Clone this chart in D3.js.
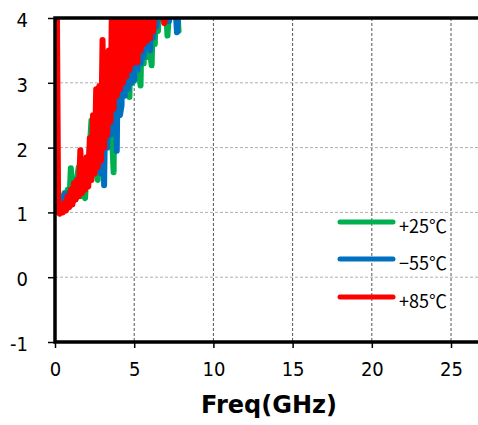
<!DOCTYPE html>
<html>
<head>
<meta charset="utf-8">
<script src="https://cdn.jsdelivr.net/npm/d3@7"></script>
<style>
  html, body { margin: 0; padding: 0; background: #fff; }
  svg { display: block; }
</style>
</head>
<body>
<div id="chart"></div>
<script>
// frequency points (GHz)
const freq = [0.1, 0.2, 0.3, 0.4, 0.5, 0.6, 0.7, 0.8, 0.9, 1.0,
  1.1, 1.2, 1.3, 1.4, 1.5, 1.6, 1.7, 1.8, 1.9, 2.0,
  2.1, 2.2, 2.3, 2.4, 2.5, 2.6, 2.7, 2.8, 2.9, 3.0,
  3.1, 3.2, 3.3, 3.4, 3.5, 3.6, 3.7, 3.8, 3.9, 4.0,
  4.1, 4.2, 4.3, 4.4, 4.5, 4.6, 4.7, 4.8, 4.9, 5.0,
  5.1, 5.2, 5.3, 5.4, 5.5, 5.6, 5.7, 5.8, 5.9, 6.0,
  6.1, 6.2, 6.3, 6.4, 6.5, 6.6, 6.7, 6.8, 6.9, 7.0,
  7.1, 7.2, 7.3, 7.4, 7.5, 7.6, 7.7, 7.8];

// +25C
const green25 = [null, null, 1.05, 1.25, 1.05, 1.3, 1.1, 1.35, 1.12, 1.68,
  1.15, 1.4, 1.2, 1.55, 1.7, 1.25, 1.5, 1.3, 1.22, 1.75,
  1.45, 2.0, 2.42, 1.6, 2.3, 1.7, 1.5, 2.7, 1.9, 3.0,
  2.1, 3.2, 3.47, 2.3, 3.4, 2.2, 1.62, 4.2, 2.5, 4.4,
  2.7, 4.3, 2.9, 4.5, 2.85, 4.4, 2.78, 4.5, 3.0, 4.4,
  3.1, 4.5, 3.2, 2.96, 4.3, 3.3, 4.4, 3.4, 4.3, 3.5,
  3.27, 4.3, 3.6, 4.4, 3.8, 4.3, 4.1, 4.2, 4.1, 4.2,
  3.73, 4.1, 4.15, 4.1, 4.2, 4.1, 4.2, 3.8];

// -55C
const blue55 = [null, null, 1.08, 1.2, 1.1, 1.28, 1.12, 1.3, 1.15, 1.35,
  1.2, 1.45, 1.22, 1.5, 1.3, 1.55, 1.35, 1.65, 1.4, 1.8,
  1.5, 2.0, 1.55, 2.3, 1.65, 2.5, 1.75, 2.7, 1.6, 2.9,
  1.42, 3.1, 2.0, 3.3, 2.2, 3.5, 2.4, 3.8, 1.95, 4.2,
  2.5, 2.65, 4.3, 2.8, 4.4, 2.9, 4.3, 3.0, 4.5, 3.04,
  4.4, 3.2, 4.4, 3.3, 4.3, 3.4, 4.2, 3.55, 4.3, 3.5,
  4.2, 3.7, 4.3, 3.86, 4.2, 4.0, 4.2, 4.05, 4.2, 4.0,
  4.1, 3.95, 4.2, 4.05, 4.1, 4.2, 3.78, 4.1];

// +85C
const red85 = [5.0, 1.0, 0.98, 1.1, 1.0, 1.15, 1.03, 1.25, 1.08, 1.35,
  1.12, 1.45, 1.2, 1.5, 1.25, 1.96, 1.3, 1.6, 1.35, 1.85,
  1.4, 2.15, 1.5, 2.5, 1.6, 2.9, 1.7, 2.95, 1.8, 3.66,
  2.0, 3.2, 2.2, 3.5, 2.4, 4.3, 2.6, 4.4, 2.8, 4.5,
  2.9, 4.4, 3.0, 4.5, 3.1, 4.4, 3.2, 4.5, 3.3, 4.4,
  3.4, 3.32, 4.4, 3.5, 4.5, 3.6, 4.4, 3.65, 4.3, 3.69,
  4.4, 3.8, 4.2, 4.2, 4.3, 4.2, 4.3, 4.1, 3.92, 4.2,
  4.2, null, null, null, null, null, null, null];

const seriesNames = ["+25℃", "−55℃", "+85℃"];
const seriesColors = ["#00b050", "#0070c0", "#ff0000"];
const seriesValues = [green25, blue55, red85];

const xTicks = [0, 5, 10, 15, 20, 25];
const yTicks = [-1, 0, 1, 2, 3, 4];

const width = 478;
const height = 425;
const margin = { top: 18, left: 55, bottom: 83 };

const x = d3.scaleLinear().domain([0, 27]).range([margin.left, 482.7]);
const y = d3.scaleLinear().domain([-1, 4]).range([height - margin.bottom, margin.top]);

const svg = d3.select("#chart").append("svg")
  .attr("width", width)
  .attr("height", height);

svg.append("clipPath").attr("id", "plot-clip")
  .append("rect")
  .attr("x", margin.left)
  .attr("y", y(4))
  .attr("width", width - margin.left)
  .attr("height", y(-1) - y(4));

// grid
svg.append("g")
  .selectAll("line")
  .data(yTicks.filter((d) => d > -1 && d < 4))
  .join("line")
  .attr("x1", margin.left).attr("x2", width)
  .attr("y1", (d) => y(d)).attr("y2", (d) => y(d))
  .attr("stroke", "#b0b0b0")
  .attr("stroke-width", 1)
  .attr("stroke-dasharray", "3,2");

svg.append("g")
  .selectAll("line")
  .data(xTicks.filter((d) => d > 0))
  .join("line")
  .attr("x1", (d) => x(d)).attr("x2", (d) => x(d))
  .attr("y1", y(4)).attr("y2", y(-1))
  .attr("stroke", "#555")
  .attr("stroke-width", 1)
  .attr("stroke-dasharray", "3,2");

// data lines
const plot = svg.append("g").attr("clip-path", "url(#plot-clip)");

seriesValues.forEach((vals, i) => {
  const line = d3.line()
    .defined((d) => d != null)
    .x((d, j) => x(freq[j]))
    .y((d) => y(d));
  plot.append("path")
    .datum(vals)
    .attr("fill", "none")
    .attr("stroke", seriesColors[i])
    .attr("stroke-width", 6)
    .attr("stroke-linejoin", "round")
    .attr("stroke-linecap", "round")
    .attr("d", line);
});

// axes
const xAxis = svg.append("g")
  .attr("transform", `translate(0,${y(-1)})`)
  .call(d3.axisBottom(x).tickValues(xTicks).tickSize(6).tickPadding(14));
const yAxis = svg.append("g")
  .attr("transform", `translate(${margin.left},0)`)
  .call(d3.axisLeft(y).tickValues(yTicks).tickSize(7).tickFormat((d) => String(d)));

[xAxis, yAxis].forEach((ax) => {
  ax.select(".domain").remove();
  ax.selectAll(".tick line").attr("stroke", "#000").attr("stroke-width", 1.5);
  ax.selectAll("text")
    .attr("fill", "#000")
    .style("font", "20px 'DejaVu Sans Condensed', 'DejaVu Sans', sans-serif");
});
yAxis.selectAll("text").attr("x", -27).attr("dy", "0.42em");

// frame: left, bottom, top
svg.append("path")
  .attr("d", `M${width},${y(4)}H${margin.left}V${y(-1)}H${width}`)
  .attr("fill", "none")
  .attr("stroke", "#000")
  .attr("stroke-width", 3.5);

// x title
svg.append("text")
  .attr("x", 269)
  .attr("y", 413)
  .attr("text-anchor", "middle")
  .style("font", "bold 24px 'DejaVu Sans', sans-serif")
  .text("Freq(GHz)");

// legend
const legendY = [222, 259, 297];
const legend = svg.append("g");
seriesNames.forEach((name, i) => {
  legend.append("line")
    .attr("x1", 340).attr("x2", 393)
    .attr("y1", legendY[i]).attr("y2", legendY[i])
    .attr("stroke", seriesColors[i])
    .attr("stroke-width", 5)
    .attr("stroke-linecap", "round");
  legend.append("text")
    .attr("x", 399)
    .attr("y", legendY[i] + 11)
    .style("font", "18px 'Noto Sans CJK JP', sans-serif")
    .text(name);
});
</script>
</body>
</html>
